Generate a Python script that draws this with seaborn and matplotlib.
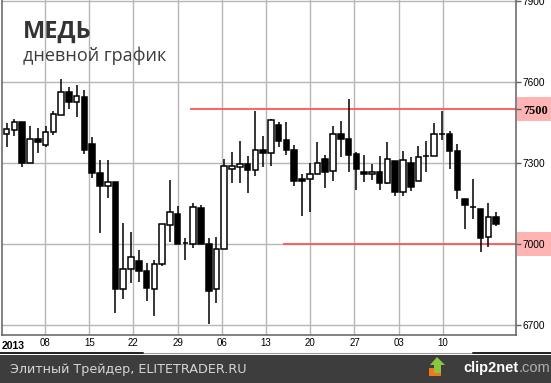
import numpy as np
import pandas as pd
import matplotlib
matplotlib.use('Agg')
import matplotlib.pyplot as plt
import matplotlib.patches as mpatches
import matplotlib.transforms as mtrans
import seaborn as sns

# ---------------- data ----------------
opens = [7406, 7421, 7451, 7299, 7389, 7365, 7414, 7477, 7562, 7525,
         7543, 7369, 7262, 7214, 7228, 6832, 6906, 6936, 6900, 6832,
         6925, 7069, 7111, 7002, 7001, 7133, 7000, 6832, 6980, 7277,
         7284, 7295, 7274, 7347, 7336, 7441, 7385, 7348, 7241, 7240,
         7258, 7314, 7269, 7406, 7389, 7333, 7265, 7258, 7265, 7225,
         7307, 7191, 7302, 7232, 7326, 7326, 7406, 7406, 7344, 7167,
         7137, 7128, 7025, 7100]
highs = [7447, 7465, 7451, 7437, 7428, 7437, 7493, 7611, 7583, 7589,
         7570, 7395, 7311, 7311, 7228, 7077, 7046, 6978, 6931, 6941,
         7073, 7237, 7141, 7021, 7151, 7144, 7021, 7025, 7315, 7340,
         7381, 7326, 7494, 7400, 7464, 7453, 7451, 7367, 7258, 7302,
         7379, 7330, 7437, 7456, 7536, 7342, 7330, 7295, 7326, 7379,
         7307, 7346, 7321, 7363, 7383, 7449, 7493, 7419, 7370, 7167,
         7241, 7128, 7151, 7117]
lows = [7360, 7401, 7286, 7299, 7338, 7360, 7404, 7477, 7499, 7469,
        7332, 7246, 7040, 7172, 6743, 6798, 6854, 6858, 6790, 6735,
        6920, 7007, 6999, 6941, 6986, 7001, 6704, 6783, 6980, 7227,
        7225, 7190, 7253, 7284, 7290, 7358, 7330, 7216, 7105, 7120,
        7258, 7209, 7233, 7323, 7268, 7202, 7231, 7237, 7202, 7221,
        7179, 7179, 7198, 7232, 7268, 7326, 7385, 7279, 7165, 7056,
        7091, 6972, 6990, 7068]
closes = [7425, 7451, 7301, 7388, 7379, 7414, 7481, 7565, 7527, 7548,
          7347, 7262, 7214, 7228, 6832, 6906, 6951, 6899, 6836, 6925,
          7073, 7117, 6999, 7002, 7136, 7001, 6827, 6980, 7290, 7290,
          7295, 7273, 7347, 7336, 7459, 7383, 7348, 7235, 7235, 7258,
          7302, 7268, 7406, 7389, 7331, 7277, 7258, 7265, 7225, 7314,
          7194, 7311, 7212, 7321, 7326, 7406, 7406, 7344, 7202, 7143,
          7137, 7023, 7100, 7073]

year_label = "2013"
week_labels = ["08", "15", "22", "29", "06", "13", "20", "27", "03", "10"]
price_ticks = [6700, 7000, 7300, 7600, 7900]
resistance = 7500
support = 7000
title = "МЕДЬ"
subtitle = "дневной график"
footer = "Элитный Трейдер, ELITETRADER.RU"

# ---------------- style ----------------
sns.set_style('white')
plt.rcParams['font.family'] = ['Liberation Sans', 'DejaVu Sans']

W, H = 551, 383
fig = plt.figure(figsize=(W / 100, H / 100), dpi=100)
fig.patch.set_facecolor('white')


def px(x, y):
    return (x / W, 1 - y / H)


ax = fig.add_axes([2 / W, 1 - 335 / H, (516 - 2) / W, 335 / H])
ax.set_facecolor('white')
ax.set_zorder(2)

df = pd.DataFrame(dict(open=opens, high=highs, low=lows, close=closes))
df['x'] = np.arange(1, len(df) + 1)
df['up'] = df['close'] >= df['open']

ax.set_xlim(0.395, 66.55)
ax.set_ylim(6663, 7904)

grid_c = '#b6b6b6'
# horizontal grid
for p in price_ticks:
    ax.axhline(p, color=grid_c, lw=1, zorder=0)
# vertical weekly grid
first_week, week_step = 5.93, 5.69
week_pos = [first_week + week_step * k for k in range(len(week_labels))]
for xp in week_pos:
    ax.axvline(xp, color=grid_c, lw=1, zorder=0)

# support / resistance
ax.hlines(resistance, 24.6, 66.55, color='#ff5555', lw=1.3, zorder=1)
ax.hlines(support, 36.56, 66.55, color='#ff5555', lw=1.3, zorder=1)

# candles
ax.vlines(df['x'], df['low'], df['high'], color='black', lw=1.1, zorder=2)
body_bottom = np.minimum(df['open'], df['close'])
body_h = np.maximum(np.abs(df['close'] - df['open']), 0.5)
fills = np.where(df['up'], 'white', 'black')
ax.bar(df['x'], body_h, bottom=body_bottom, width=0.72, color=fills,
       edgecolor='black', linewidth=1.1, zorder=3)

# spines
ax.spines['top'].set_visible(False)
for s in ['left', 'right', 'bottom']:
    ax.spines[s].set_color('#606060')
    ax.spines[s].set_linewidth(1.1)

# right y-axis ticks
ax.yaxis.tick_right()
ax.set_yticks(price_ticks + [resistance])
ax.set_yticklabels([str(p) for p in price_ticks] + [str(resistance)])
ax.tick_params(axis='y', which='both', right=True, left=False, length=3.5,
               width=1, color='#606060', pad=1.5, labelsize=7.3,
               labelcolor='black')
for lab in ax.get_yticklabels():
    if lab.get_text() == str(resistance):
        lab.set_fontfamily(['Liberation Serif', 'DejaVu Serif'])
        lab.set_fontweight('bold')
        lab.set_fontsize(8.8)

# pink boxes behind the level labels
bt = mtrans.blended_transform_factory(fig.transFigure, ax.transData)
for lvl in (resistance, support):
    fig.patches.append(mpatches.Rectangle((517 / W, lvl - 43), 1 - 517 / W, 86,
                                          transform=bt, facecolor='#ffb4b4',
                                          edgecolor='none', zorder=-5))

# x ticks
ax.set_xticks(week_pos)
ax.set_xticklabels(week_labels)
ax.tick_params(axis='x', length=0, pad=2.5, labelsize=7, labelcolor='black')
ax.text(0, -0.018, year_label, transform=ax.transAxes, ha='left', va='top',
        fontsize=7.5, fontweight='bold', color='black')

# titles
fig.text(*px(23, 37.7), title, fontsize=17, fontweight='bold',
         color='#333333', family=['Open Sans', 'DejaVu Sans'], va='baseline')
fig.text(*px(23, 61), subtitle, fontsize=13, color='#3c3c3c',
         family=['Open Sans', 'DejaVu Sans'], va='baseline')

# scrollbar-like line
yl = px(0, 353)[1]
fig.add_artist(plt.Line2D([0, 1], [yl, yl], color='#9a9a9a',
                          lw=0.8, transform=fig.transFigure))
fig.add_artist(plt.Line2D([0, 143 / W], [yl, yl], color='#222222',
                          lw=1.4, transform=fig.transFigure))
fig.add_artist(plt.Line2D([473 / W, 1], [yl, yl], color='#222222',
                          lw=1.4, transform=fig.transFigure))

# footer band
fig.patches.append(mpatches.Rectangle((0, 0), 1, 28 / H, transform=fig.transFigure,
                                      facecolor='#3d3d3d', edgecolor='none',
                                      zorder=-5))
fig.text(*px(10, 369), footer, fontsize=9.2, color='#d6d6d6',
         family=['DejaVu Sans'], va='center', ha='left')

# clip2net logo
fig.patches.append(mpatches.Polygon([px(429, 368), px(441, 368), px(441, 376),
                                     px(429, 376)], closed=True,
                                    transform=fig.transFigure,
                                    facecolor='#f07818', edgecolor='none'))
fig.patches.append(mpatches.Polygon([px(437, 357), px(445, 365), px(441, 365),
                                     px(441, 373), px(434, 373), px(434, 365),
                                     px(430, 365)], closed=True,
                                    transform=fig.transFigure,
                                    facecolor='#8cc63e', edgecolor='none'))
fig.text(*px(519, 368), "clip2net", fontsize=10.5, fontweight='bold',
         color='white', ha='right', va='center')
fig.text(*px(519, 368), ".com", fontsize=10.5,
         color='#b0b0b0', ha='left', va='center')

fig.savefig('out.png', dpi=100)
